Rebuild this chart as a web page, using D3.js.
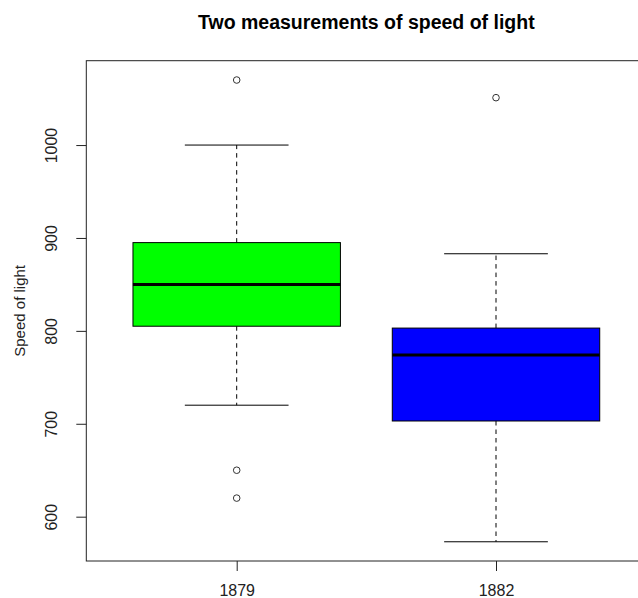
<!DOCTYPE html>
<html>
<head>
<meta charset="utf-8">
<script src="https://cdn.jsdelivr.net/npm/d3@7.9.0/dist/d3.min.js"></script>
<style>
  body { margin: 0; background: #fff; }
  svg { display: block; font-family: "Liberation Sans", Arial, sans-serif; }
</style>
</head>
<body>
<svg id="chart" width="638" height="598"></svg>
<script>
const groups = ["1879", "1882"];
const whiskerLow = [720, 573];
const q1 = [805, 703];
const median = [850, 774];
const q3 = [895, 803];
const whiskerHigh = [1000, 883];
const outliers = [[1070, 650, 620], [1051]];
const fills = ["#00ff00", "#0000ff"];
const yTicks = [600, 700, 800, 900, 1000];

const svg = d3.select("#chart");

// plot region (R style: box runs off the right edge)
const plotLeft = 86.3, plotRight = 646.4, plotTop = 60.7, plotBottom = 561;

// x positions 1..2, xlim 0.5..2.5 with 4% padding
const x = d3.scaleLinear().domain([0.42, 2.58]).range([plotLeft, plotRight]);
const y = d3.scaleLinear().domain([552.3, 1090.8]).range([plotBottom, plotTop]);

const boxHalf = 0.4, capHalf = 0.2;

groups.forEach((g, i) => {
  const cx = x(i + 1);
  const gg = svg.append("g");

  // dashed whiskers
  gg.append("line")
    .attr("x1", cx).attr("x2", cx)
    .attr("y1", y(q3[i])).attr("y2", y(whiskerHigh[i]))
    .attr("stroke", "#000").attr("stroke-dasharray", "4.5,4");
  gg.append("line")
    .attr("x1", cx).attr("x2", cx)
    .attr("y1", y(q1[i])).attr("y2", y(whiskerLow[i]))
    .attr("stroke", "#000").attr("stroke-dasharray", "4.5,4");

  // whisker caps
  [whiskerLow[i], whiskerHigh[i]].forEach(v => {
    gg.append("line")
      .attr("x1", x(i + 1 - capHalf)).attr("x2", x(i + 1 + capHalf))
      .attr("y1", y(v)).attr("y2", y(v))
      .attr("stroke", "#000");
  });

  // box
  gg.append("rect")
    .attr("x", x(i + 1 - boxHalf))
    .attr("y", y(q3[i]))
    .attr("width", x(i + 1 + boxHalf) - x(i + 1 - boxHalf))
    .attr("height", y(q1[i]) - y(q3[i]))
    .attr("fill", fills[i]).attr("stroke", "#000");

  // median
  gg.append("line")
    .attr("x1", x(i + 1 - boxHalf)).attr("x2", x(i + 1 + boxHalf))
    .attr("y1", y(median[i])).attr("y2", y(median[i]))
    .attr("stroke", "#000").attr("stroke-width", 3);

  // outliers
  outliers[i].forEach(v => {
    gg.append("circle")
      .attr("cx", cx).attr("cy", y(v)).attr("r", 3.3)
      .attr("fill", "none").attr("stroke", "#333");
  });
});

// frame
svg.append("rect")
  .attr("x", plotLeft).attr("y", plotTop)
  .attr("width", plotRight - plotLeft).attr("height", plotBottom - plotTop)
  .attr("fill", "none").attr("stroke", "#222");

// y axis
const yAxis = svg.append("g")
  .attr("transform", `translate(${plotLeft},0)`)
  .call(d3.axisLeft(y).tickValues(yTicks).tickSize(10).tickPadding(0).tickFormat(d3.format("d")));
yAxis.select(".domain").remove();
yAxis.selectAll(".tick line").attr("stroke", "#222");
yAxis.selectAll(".tick text")
  .attr("transform", "rotate(-90)")
  .attr("x", 0).attr("y", -29)
  .attr("dy", null)
  .attr("text-anchor", "middle")
  .attr("font-size", 16).attr("fill", "#222")
  .attr("font-family", "Liberation Sans, Arial, sans-serif");

// x axis
const xAxis = svg.append("g")
  .attr("transform", `translate(0,${plotBottom})`)
  .call(d3.axisBottom(x).tickValues([1, 2]).tickSize(10).tickPadding(0).tickFormat((d, i) => groups[i]));
xAxis.select(".domain").remove();
xAxis.selectAll(".tick line").attr("stroke", "#222");
xAxis.selectAll(".tick text")
  .attr("y", 35).attr("dy", null)
  .attr("font-size", 16).attr("fill", "#222")
  .attr("font-family", "Liberation Sans, Arial, sans-serif");

// axis title
svg.append("text")
  .attr("transform", `translate(25,${(plotTop + plotBottom) / 2}) rotate(-90)`)
  .attr("text-anchor", "middle")
  .attr("font-size", 15).attr("fill", "#222")
  .text("Speed of light");

// main title
svg.append("text")
  .attr("x", (plotLeft + plotRight) / 2).attr("y", 29)
  .attr("text-anchor", "middle")
  .attr("font-size", 19.5).attr("font-weight", "bold").attr("fill", "#000")
  .text("Two measurements of speed of light");
</script>
</body>
</html>
